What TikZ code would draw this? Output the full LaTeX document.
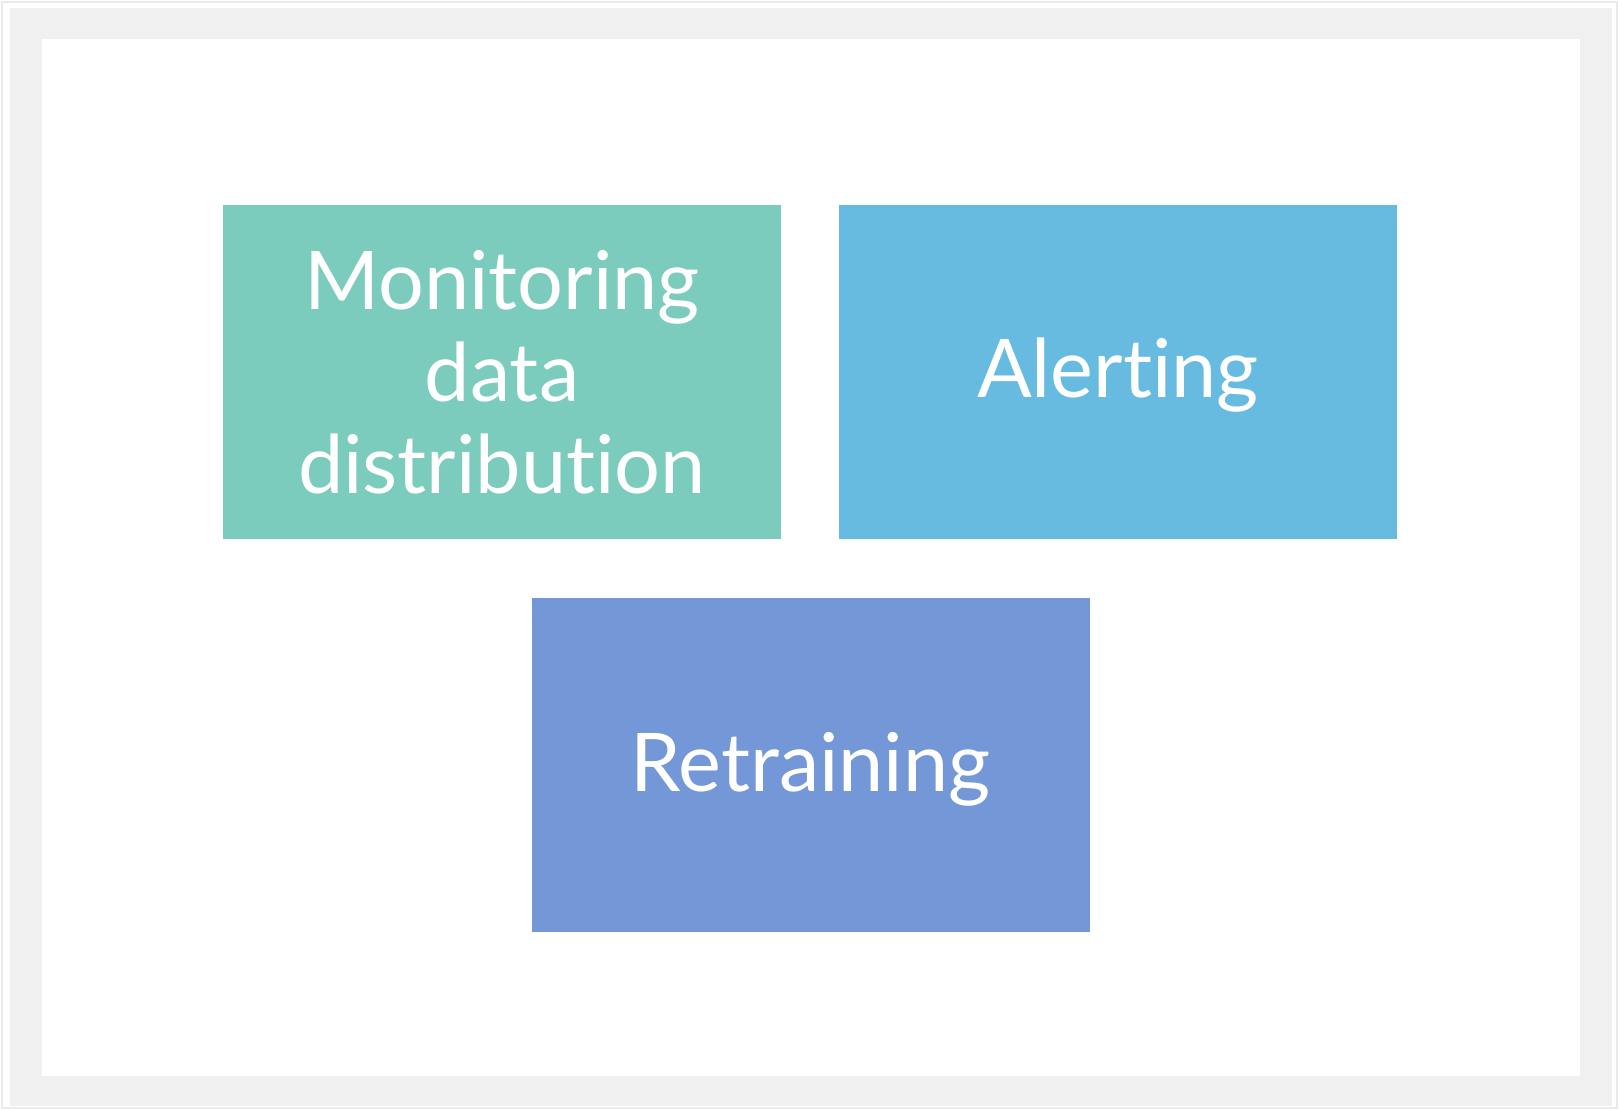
\documentclass[tikz,border=0pt]{standalone}
\usepackage{fontspec}
\setmainfont{Lato}[Ligatures={NoCommon,NoRare,NoContextual}]
\definecolor{framegray}{HTML}{F0F0F0}
\definecolor{lineg}{HTML}{EAEAEA}
\definecolor{boxgreen}{HTML}{7BCCBD}
\definecolor{boxblue}{HTML}{68BBE0}
\definecolor{boxpurple}{HTML}{7497D7}
\tikzset{
  card/.style={fill=#1, draw=none, text=white, align=center, inner sep=0pt,
    minimum width=558pt, minimum height=334pt,
    font=\fontsize{81}{92}\selectfont}
}
\begin{document}
\begin{tikzpicture}[x=1pt,y=-1pt]
\useasboundingbox (0,0) rectangle (1619,1110);
\fill[white] (0,0) rectangle (1619,1110);
\draw[lineg, line width=1.2pt] (2,2) rectangle (1617,1108);
\fill[framegray] (10,8) rectangle (1612,1106);
\fill[white] (42,39) rectangle (1580,1076);
\node[card=boxgreen] (mon) at (502,372) {Monitoring\\data\\distribution};
\node[card=boxblue] (alert) at (1118,372) {\raisebox{-25.5pt}[0pt][0pt]{Alerting}};
\node[card=boxpurple] (retrain) at (810.5,764.5) {\raisebox{-26.5pt}[0pt][0pt]{Retraining}};
\end{tikzpicture}
\end{document}
